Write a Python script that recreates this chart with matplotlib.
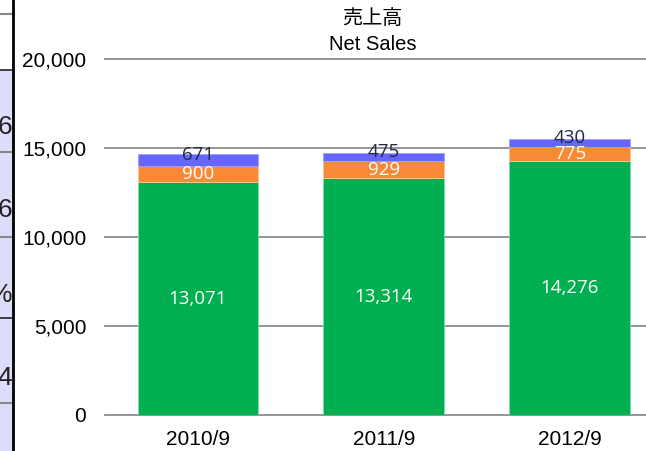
import matplotlib
matplotlib.use("Agg")
import matplotlib.pyplot as plt
from matplotlib.patches import Rectangle

# datos del gráfico
periods = ["2010/9", "2011/9", "2012/9"]
green_vals = [13071, 13314, 14276]
orange_vals = [900, 929, 775]
purple_vals = [671, 475, 430]
y_ticks = [0, 5000, 10000, 15000, 20000]

GREEN = "#00B050"
ORANGE = "#F98A35"
PURPLE = "#6666FF"
LABEL_DARK = "#1F2A44"

W, H = 646, 451
fig = plt.figure(figsize=(W / 100, H / 100), dpi=100)

# tira recortada de la tabla a la izquierda
strip = fig.add_axes([0, 0, 13 / W, 1])
strip.set_xlim(0, 13)
strip.set_ylim(H, 0)
strip.axis("off")
strip.add_patch(Rectangle((0, 70), 13, H - 70, color="#DDDDFA", zorder=0))
for yy in [14, 152, 237, 403]:
    strip.plot([0, 13], [yy, yy], color="#888888", lw=1.5)
strip.plot([0, 13], [70, 70], color="#222222", lw=1.2)
strip.plot([0, 13], [318, 318], color="#222222", lw=1.2)
for yy, ch in [(127, "6"), (210, "6"), (295, "%"), (378, "4")]:
    strip.text(12, yy, ch, ha="right", va="center", fontsize=19,
               family="Liberation Sans", color="#222222", clip_on=True)
fig.add_artist(plt.Line2D([13.5 / W, 13.5 / W], [0, 1], color="black", lw=2))

# gráfico principal
ax = fig.add_axes([105 / W, 1 - 415 / H, 1 - 105 / W, (415 - 59) / H])
x = list(range(len(periods)))
width = 0.65
bottom2 = [g + o for g, o in zip(green_vals, orange_vals)]
ax.bar(x, green_vals, width, color=GREEN, edgecolor="#7FE0A8", lw=0.6, zorder=3)
ax.bar(x, orange_vals, width, bottom=green_vals, color=ORANGE,
       edgecolor="#FCC59A", lw=0.6, zorder=3)
ax.bar(x, purple_vals, width, bottom=bottom2, color=PURPLE,
       edgecolor="#A0A0FF", lw=0.6, zorder=3)

ax.set_xlim(-0.5, 2.41)
ax.set_ylim(0, 20000)
ax.set_yticks(y_ticks)
ax.set_yticklabels([f"{v:,}" for v in y_ticks], family="Liberation Sans",
                   fontsize=15)
ax.set_xticks(x)
ax.set_xticklabels(periods, family="Liberation Sans", fontsize=15)
ax.tick_params(axis="y", length=0, pad=13.5)
ax.tick_params(axis="x", length=0, pad=11)
for v in y_ticks:
    ax.axhline(v, color="#8C8C8C", lw=1.3, zorder=1, clip_on=False)
for s in ax.spines.values():
    s.set_visible(False)

lab_font = dict(family="Open Sans", fontsize=13.5, ha="center", va="center", zorder=5)
for i in x:
    ax.text(i, green_vals[i] / 2, f"{green_vals[i]:,}", color="white", **lab_font)
    ax.text(i, green_vals[i] + orange_vals[i] / 2, f"{orange_vals[i]:,}",
            color="white", **lab_font)
    ax.annotate(f"{purple_vals[i]:,}", (i, bottom2[i] + purple_vals[i] / 2),
                xytext=(0, 4), textcoords="offset points", color=LABEL_DARK,
                **lab_font)

fig.text(372 / W, 1 - 19 / H, "売上高", ha="center", va="center", fontsize=14.5,
         family=["Noto Sans CJK JP", "DejaVu Sans"])
fig.text(373 / W, 1 - 45 / H, "Net Sales", ha="center", va="center", fontsize=14.5,
         family="Liberation Sans")

fig.savefig("out.png", dpi=100)
